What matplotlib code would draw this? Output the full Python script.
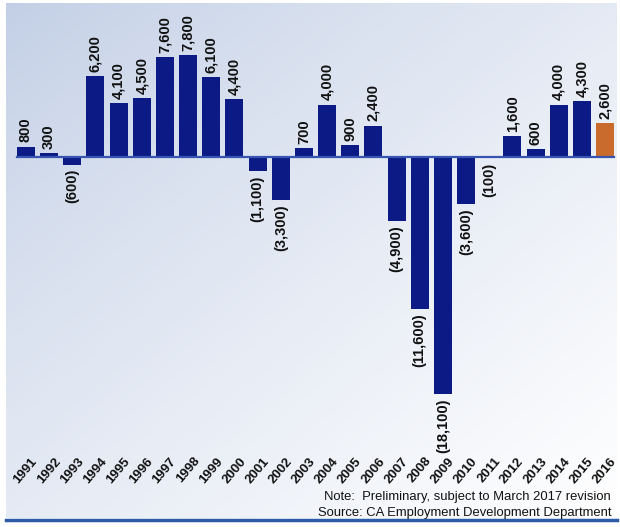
import numpy as np
import matplotlib
matplotlib.use("Agg")
import matplotlib.pyplot as plt
from matplotlib import transforms

years = [str(y) for y in range(1991, 2017)]
values = [800, 300, -600, 6200, 4100, 4500, 7600, 7800, 6100, 4400,
          -1100, -3300, 700, 4000, 900, 2400, -4900, -11600, -18100, -3600,
          -100, 1600, 600, 4000, 4300, 2600]
note_lines = ["Note:  Preliminary, subject to March 2017 revision",
              "Source: CA Employment Development Department"]

font = "Liberation Sans"

W, H = 620, 527
fig = plt.figure(figsize=(W / 100, H / 100), dpi=100)

# gradient background panel (dark blue-grey top-left -> white bottom-right)
bg = fig.add_axes([6 / W, (H - 518) / H, (617 - 6) / W, (518 - 3) / H])
xx, yy = np.meshgrid(np.linspace(0, 1, 200), np.linspace(0, 1, 200))
t = np.clip(0.5 * xx + 0.5 * yy, 0, 1) ** 0.8
c0 = np.array([0.76, 0.81, 0.90])
c1 = np.array([1.0, 1.0, 1.0])
img = c0[None, None, :] * (1 - t[..., None]) + c1[None, None, :] * t[..., None]
bg.imshow(img, aspect="auto", extent=[0, 1, 0, 1], origin="upper")
bg.axis("off")

# bottom blue rule
fig.add_artist(plt.Line2D([6 / W, 617 / W], [(H - 519.5) / H] * 2,
                          color="#2E5BA8", lw=2.5, transform=fig.transFigure))

# main axes: zero at y=157px, 13.1 px per 1000
px_per = 13.1 / 1000
top_px, bot_px, zero_px = 10, 440, 157
x_left, x_right = 14.4, 616.6
ax = fig.add_axes([x_left / W, (H - bot_px) / H, (x_right - x_left) / W, (bot_px - top_px) / H])
ax.patch.set_alpha(0)
ax.set_xlim(-0.5, len(years) - 0.5)
ax.set_ylim(-(bot_px - zero_px) / px_per, (zero_px - top_px) / px_per)

x = np.arange(len(years))
colors = ["#0B1A84"] * (len(years) - 1) + ["#C96B2C"]
ax.bar(x, values, width=0.78, color=colors, zorder=2)
ax.plot([-0.39, len(years) - 1 + 0.39], [0, 0], color="#3654B0", lw=1.6, zorder=3)

for xi, v in zip(x, values):
    lab = f"{abs(v):,}" if v >= 0 else f"({abs(v):,})"
    ax.annotate(lab, (xi, v), xytext=(0, 3 if v >= 0 else -3), textcoords="offset points",
                rotation=90, ha="center", va="bottom" if v >= 0 else "top",
                fontsize=10.5, fontweight="bold", family=font, color="#111111")

ax.axis("off")

tr = transforms.blended_transform_factory(ax.transData, fig.transFigure)
for xi, yl in zip(x, years):
    ax.text(xi + 0.4, 1 - 459 / H, yl, transform=tr, rotation=50, rotation_mode="anchor",
            ha="right", va="center", fontsize=9.5, fontweight="bold", family=font,
            color="#111111")

fig.text(611 / W, 1 - 497 / H, note_lines[0], ha="right", va="center",
         fontsize=9.4, family=font, color="#111111")
fig.text(611 / W, 1 - 513 / H, note_lines[1], ha="right", va="center",
         fontsize=9.4, family=font, color="#111111")

fig.savefig("out.png", dpi=100)
